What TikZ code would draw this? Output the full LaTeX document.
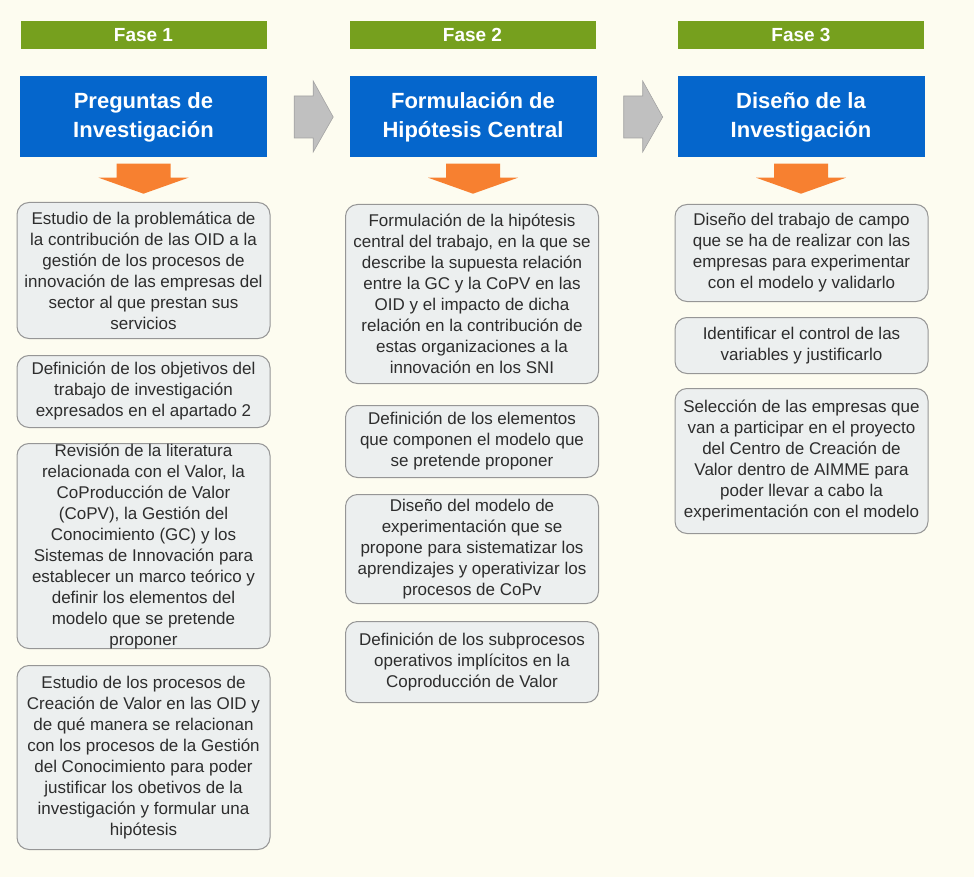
\documentclass[tikz,border=0pt]{standalone}
\usepackage{fontspec}
\setmainfont{Liberation Sans}
\usetikzlibrary{calc}
\definecolor{fondo}{RGB}{253,252,240}
\definecolor{verdefase}{RGB}{118,160,30}
\definecolor{azulcab}{RGB}{5,102,204}
\definecolor{naranja}{RGB}{247,128,48}
\definecolor{grisflecha}{RGB}{192,192,192}
\definecolor{grisborde}{RGB}{150,150,150}
\definecolor{grisfondo}{RGB}{236,239,239}
\definecolor{texto}{RGB}{45,45,45}
\begin{document}
\begin{tikzpicture}[x=1pt,y=-1pt,
    fase/.style={fill=verdefase, text=white, font=\fontsize{19}{22}\selectfont\bfseries,
        minimum width=246pt, minimum height=28pt, inner sep=0pt},
    cabecera/.style={fill=azulcab, text=white, font=\fontsize{22}{29}\selectfont\bfseries,
        align=center, minimum width=247pt, minimum height=81pt, inner sep=0pt},
    tarea/.style={draw=grisborde, line width=1pt, fill=grisfondo, rounded corners=12pt,
        text=texto, font=\fontsize{17}{21}\selectfont, align=center,
        minimum width=253pt, inner sep=0pt, anchor=north}]
    \fill[fondo] (0,0) rectangle (974,877);
    \useasboundingbox (0,0) rectangle (974,877);

    \node[fase] (f1) at (143.5,35) {Fase 1};
    \node[fase] (f2) at (472.5,35) {Fase 2};
    \node[fase] (f3) at (801,35) {Fase 3};

    \node[cabecera] (t1) at (143.5,117) {Preguntas de\\Investigación};
    \node[cabecera] (t2) at (473,117) {Formulación de\\Hipótesis Central};
    \node[cabecera] (t3) at (801,117) {Diseño de la\\Investigación};

    % flechas grises entre fases
    \foreach \a in {t1,t2} {
        \coordinate (p) at ($(\a.east)+(27,0)$);
        \filldraw[fill=grisflecha, draw=grisflecha!85!black, line width=0.6pt]
            (p) ++(0,-21) -- ++(19,0) -- ++(0,-15) -- ++(20,36) -- ++(-20,35)
            -- ++(0,-14) -- ++(-19,0) -- cycle;
    }
    % flechas naranjas hacia las tareas
    \foreach \a in {t1,t2,t3} {
        \coordinate (q) at ($(\a.south)+(0,6)$);
        \fill[naranja] (q) ++(-27,0) -- ++(54,0) -- ++(0,14) -- ++(18,0)
            -- ++(-45,16) -- ++(-45,-16) -- ++(18,0) -- cycle;
    }

    \node[tarea, minimum height=136pt] (a1) at (143.5,202) {Estudio de la problemática de\\la contribución de las OID a la\\gestión de los procesos de\\innovación de las empresas del\\sector al que prestan sus\\servicios};
    \node[tarea, minimum height=72pt] (a2) at (143.5,355) {Definición de los objetivos del\\trabajo de investigación\\expresados en el apartado 2};
    \node[tarea, minimum height=204pt] (a3) at (143.5,443) {Revisión de la literatura\\relacionada con el Valor, la\\CoProducción de Valor\\(CoPV), la Gestión del\\Conocimiento (GC) y los\\Sistemas de Innovación para\\establecer un marco teórico y\\definir los elementos del\\modelo que se pretende\\proponer};
    \node[tarea, minimum height=184pt] (a4) at (143.5,665) {Estudio de los procesos de\\Creación de Valor en las OID y\\de qué manera se relacionan\\con los procesos de la Gestión\\del Conocimiento para poder\\justificar los obetivos de la\\investigación y formular una\\hipótesis};

    \node[tarea, minimum height=179pt] (b1) at (472,204) {Formulación de la hipótesis\\central del trabajo, en la que se\\describe la supuesta relación\\entre la GC y la CoPV en las\\OID y el impacto de dicha\\relación en la contribución de\\estas organizaciones a la\\innovación en los SNI};
    \node[tarea, minimum height=72pt] (b2) at (472,405) {Definición de los elementos\\que componen el modelo que\\se pretende proponer};
    \node[tarea, minimum height=109pt] (b3) at (472,494) {Diseño del modelo de\\experimentación que se\\propone para sistematizar los\\aprendizajes y operativizar los\\procesos de CoPv};
    \node[tarea, minimum height=81pt] (b4) at (472,621) {Definición de los subprocesos\\operativos implícitos en la\\Coproducción de Valor};

    \node[tarea, minimum height=97pt] (c1) at (801.5,204) {Diseño del trabajo de campo\\que se ha de realizar con las\\empresas para experimentar\\con el modelo y validarlo};
    \node[tarea, minimum height=56pt] (c2) at (801.5,317) {Identificar el control de las\\variables y justificarlo};
    \node[tarea, minimum height=145pt] (c3) at (801.5,388) {Selección de las empresas que\\van a participar en el proyecto\\del Centro de Creación de\\Valor dentro de AIMME para\\poder llevar a cabo la\\experimentación con el modelo};
\end{tikzpicture}
\end{document}
